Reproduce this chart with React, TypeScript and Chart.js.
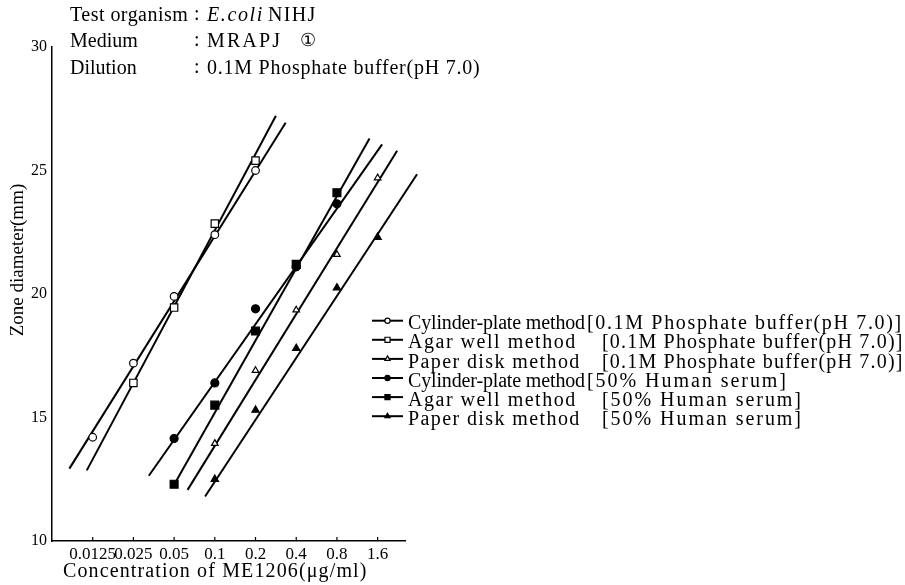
import React, { useEffect, useRef } from "react";
import { Chart, registerables } from "chart.js";

Chart.register(...registerables);

const SERIF = '"Liberation Serif", "DejaVu Serif", serif';

// ---- axes ----
const xTickValues = [0.0125, 0.025, 0.05, 0.1, 0.2, 0.4, 0.8, 1.6];
const xTickLabels = ["0.0125", "0.025", "0.05", "0.1", "0.2", "0.4", "0.8", "1.6"];
const yTickValues = [10, 15, 20, 25, 30];
const xTitle = "Concentration of ME1206(\u03bcg/ml)";
const yTitle = "Zone diameter(mm)";

// ---- header ----
const headerLabels = ["Test organism", "Medium", "Dilution"];
const headerItalic = "E.coli";
const headerOrganism = "NIHJ";
const headerMedium = "MRAPJ";
const headerMediumNo = "\u2460";
const headerDilution = "0.1M Phosphate buffer(pH 7.0)";

// ---- data: concentration (ug/ml) / zone diameter (mm) ----
const cylBufferConc = [0.0125, 0.025, 0.05, 0.1, 0.2];
const cylBufferZone = [14.2, 17.2, 19.9, 22.4, 25.0];
const agarBufferConc = [0.025, 0.05, 0.1, 0.2];
const agarBufferZone = [16.4, 19.45, 22.85, 25.4];
const paperBufferConc = [0.1, 0.2, 0.4, 0.8, 1.6];
const paperBufferZone = [13.95, 16.9, 19.35, 21.6, 24.7];
const cylSerumConc = [0.05, 0.1, 0.2, 0.4, 0.8];
const cylSerumZone = [14.15, 16.4, 19.4, 21.1, 23.65];
const agarSerumConc = [0.05, 0.1, 0.2, 0.4, 0.8];
const agarSerumZone = [12.3, 15.5, 18.5, 21.2, 24.1];
const paperSerumConc = [0.1, 0.2, 0.4, 0.8, 1.6];
const paperSerumZone = [12.5, 15.3, 17.8, 20.25, 22.3];

// ---- fitted standard lines: [start, end] ----
const cylBufferLineConc = [0.0084, 0.334];
const cylBufferLineZone = [12.93, 26.93];
const agarBufferLineConc = [0.0113, 0.283];
const agarBufferLineZone = [12.86, 27.22];
const paperBufferLineConc = [0.0629, 2.23];
const paperBufferLineZone = [12.07, 25.8];
const cylSerumLineConc = [0.0325, 1.727];
const cylSerumLineZone = [12.64, 26.06];
const agarSerumLineConc = [0.05, 1.393];
const agarSerumLineZone = [12.28, 26.3];
const paperSerumLineConc = [0.0847, 3.13];
const paperSerumLineZone = [11.8, 24.85];

// ---- legend ----
const legendMethods = [
  "Cylinder-plate method",
  "Agar well method",
  "Paper disk method",
  "Cylinder-plate method",
  "Agar well method",
  "Paper disk method",
];
const legendMedia = [
  "[0.1M Phosphate buffer(pH 7.0)]",
  "[0.1M Phosphate buffer(pH 7.0)]",
  "[0.1M Phosphate buffer(pH 7.0)]",
  "[50% Human serum]",
  "[50% Human serum]",
  "[50% Human serum]",
];

type Style = "circle" | "rect" | "triangle";

const series = [
  { conc: cylBufferConc, zone: cylBufferZone, lc: cylBufferLineConc, lz: cylBufferLineZone, style: "circle" as Style, filled: false, r: 3.8, lr: 2.6 },
  { conc: agarBufferConc, zone: agarBufferZone, lc: agarBufferLineConc, lz: agarBufferLineZone, style: "rect" as Style, filled: false, r: 5.2, lr: 3.6 },
  { conc: paperBufferConc, zone: paperBufferZone, lc: paperBufferLineConc, lz: paperBufferLineZone, style: "triangle" as Style, filled: false, r: 3.8, lr: 3.0 },
  { conc: cylSerumConc, zone: cylSerumZone, lc: cylSerumLineConc, lz: cylSerumLineZone, style: "circle" as Style, filled: true, r: 4.0, lr: 2.6 },
  { conc: agarSerumConc, zone: agarSerumZone, lc: agarSerumLineConc, lz: agarSerumLineZone, style: "rect" as Style, filled: true, r: 5.6, lr: 3.6 },
  { conc: paperSerumConc, zone: paperSerumZone, lc: paperSerumLineConc, lz: paperSerumLineZone, style: "triangle" as Style, filled: true, r: 4.2, lr: 3.0 },
];

// legend layout widths (typeset wide in the original)
const legendNameWidths = [177, 168, 172, 177, 168, 172];
const legendMediaX = [587, 602, 602, 587, 602, 602];
const legendMediaWidths = [315, 301, 301, 200, 200, 200];

function drawMarker(ctx: CanvasRenderingContext2D, style: Style, x: number, y: number, r: number, filled: boolean) {
  ctx.beginPath();
  if (style === "circle") {
    ctx.arc(x, y, r, 0, Math.PI * 2);
  } else if (style === "rect") {
    const s = r * Math.SQRT1_2;
    ctx.rect(x - s, y - s, 2 * s, 2 * s);
  } else {
    const h = r * 1.5;
    ctx.moveTo(x, y - r);
    ctx.lineTo(x + h / Math.sqrt(3), y + r / 2);
    ctx.lineTo(x - h / Math.sqrt(3), y + r / 2);
    ctx.closePath();
  }
  ctx.fillStyle = filled ? "#000" : "#fff";
  ctx.fill();
  ctx.lineWidth = 1.2;
  ctx.strokeStyle = "#000";
  ctx.stroke();
}

// draw text left-aligned so it spans the given width
function fitText(ctx: any, text: string, x: number, y: number, width: number) {
  const hasLS = "letterSpacing" in ctx;
  if (hasLS) ctx.letterSpacing = "0px";
  const w = ctx.measureText(text).width;
  const n = Array.from(text).length;
  if (hasLS && n > 1) {
    const ls = (width - w) / (n - 0.5);
    ctx.letterSpacing = `${ls}px`;
    ctx.fillText(text, x, y);
    ctx.letterSpacing = "0px";
  } else {
    ctx.save();
    ctx.translate(x, y);
    ctx.scale(width / w, 1);
    ctx.fillText(text, 0, 0);
    ctx.restore();
  }
}

const decorPlugin = {
  id: "decor",
  afterDraw(chart: any) {
    const ctx: CanvasRenderingContext2D = chart.ctx;
    const xs = chart.scales.x;
    ctx.save();
    // inward tick marks on the x axis
    ctx.strokeStyle = "#000";
    ctx.lineWidth = 1.2;
    xTickValues.forEach((v) => {
      const px = xs.getPixelForValue(v);
      ctx.beginPath();
      ctx.moveTo(px, xs.top);
      ctx.lineTo(px, xs.top - 4);
      ctx.stroke();
    });

    ctx.fillStyle = "#000";
    ctx.textBaseline = "alphabetic";
    ctx.textAlign = "left";

    // header
    const hb = [21, 47, 74];
    ctx.font = `20px ${SERIF}`;
    headerLabels.forEach((t, i) => {
      if (i === 0) fitText(ctx, t, 70, hb[i], 118);
      else ctx.fillText(t, 70, hb[i]);
      ctx.fillText(":", 194, hb[i] - 1);
    });
    ctx.font = `italic 20px ${SERIF}`;
    fitText(ctx, headerItalic, 207, hb[0], 56);
    ctx.font = `20px ${SERIF}`;
    fitText(ctx, headerOrganism, 268, hb[0], 48);
    fitText(ctx, headerMedium, 207, hb[1], 74);
    ctx.font = `18px ${SERIF}`;
    ctx.fillText(headerMediumNo, 300, hb[1] - 1);
    ctx.font = `20px ${SERIF}`;
    fitText(ctx, headerDilution, 207, hb[2], 273);

    // axis titles
    ctx.font = `20px ${SERIF}`;
    ctx.textBaseline = "middle";
    fitText(ctx, xTitle, 63, 572, 304);
    ctx.save();
    ctx.font = `19px ${SERIF}`;
    ctx.textAlign = "center";
    ctx.translate(18, 260);
    ctx.rotate(-Math.PI / 2);
    ctx.fillText(yTitle, 0, 0);
    ctx.restore();

    // legend
    ctx.textAlign = "left";
    ctx.textBaseline = "alphabetic";
    ctx.font = `20px ${SERIF}`;
    series.forEach((s, i) => {
      const ly = 320.7 + i * 19.1;
      ctx.strokeStyle = "#000";
      ctx.lineWidth = 2;
      ctx.beginPath();
      ctx.moveTo(372, ly);
      ctx.lineTo(403, ly);
      ctx.stroke();
      drawMarker(ctx, s.style, 387.5, ly, s.lr, s.filled);
      ctx.fillStyle = "#000";
      fitText(ctx, legendMethods[i], 408, ly + 8.6, legendNameWidths[i]);
      fitText(ctx, legendMedia[i], legendMediaX[i], ly + 8.6, legendMediaWidths[i]);
    });
    ctx.restore();
  },
};

export default function App() {
  const ref = useRef<HTMLCanvasElement | null>(null);

  useEffect(() => {
    if (!ref.current) return;
    const datasets: any[] = [];
    series.forEach((s) => {
      datasets.push({
        data: s.lc.map((x, i) => ({ x, y: s.lz[i] })),
        showLine: true,
        borderColor: "#000",
        borderWidth: 2,
        pointRadius: 0,
        clip: false,
        order: 2,
      });
    });
    series.forEach((s) => {
      datasets.push({
        data: s.conc.map((x, i) => ({ x, y: s.zone[i] })),
        showLine: false,
        pointStyle: s.style,
        pointRadius: s.r,
        pointBackgroundColor: s.filled ? "#000" : "#fff",
        pointBorderColor: "#000",
        pointBorderWidth: 1.2,
        clip: false,
        order: 1,
      });
    });

    const chart = new Chart(ref.current, {
      type: "scatter",
      data: { datasets },
      options: {
        responsive: false,
        animation: false,
        layout: { padding: { left: 0, right: 500, top: 47, bottom: 0 } },
        plugins: { legend: { display: false }, tooltip: { enabled: false } },
        scales: {
          x: {
            type: "logarithmic",
            min: 0.00625,
            max: 2.55,
            afterBuildTicks: (sc: any) => {
              sc.ticks = xTickValues.map((v) => ({ value: v }));
            },
            afterFit: (sc: any) => {
              sc.height = 44;
            },
            ticks: {
              callback: (_v: any, i: number) => xTickLabels[i],
              font: { family: SERIF, size: 17 },
              color: "#000",
              padding: 3,
              maxRotation: 0,
              minRotation: 0,
              autoSkip: false,
            },
            grid: { drawOnChartArea: false, drawTicks: false },
            border: { display: true, color: "#000", width: 1.5 },
          },
          y: {
            type: "linear",
            min: 10,
            max: 30,
            afterBuildTicks: (sc: any) => {
              sc.ticks = yTickValues.map((v) => ({ value: v }));
            },
            afterFit: (sc: any) => {
              sc.width = 52;
            },
            ticks: {
              font: { family: SERIF, size: 16 },
              color: "#000",
              padding: 5,
            },
            grid: { drawOnChartArea: false, drawTicks: false },
            border: { display: true, color: "#000", width: 1.5 },
          },
        },
      } as any,
      plugins: [decorPlugin],
    });
    return () => chart.destroy();
  }, []);

  return (
    <div style={{ position: "absolute", left: 0, top: 0, width: 905, height: 585, background: "#fff" }}>
      <canvas ref={ref} width={905} height={585} style={{ display: "block" }} />
    </div>
  );
}
